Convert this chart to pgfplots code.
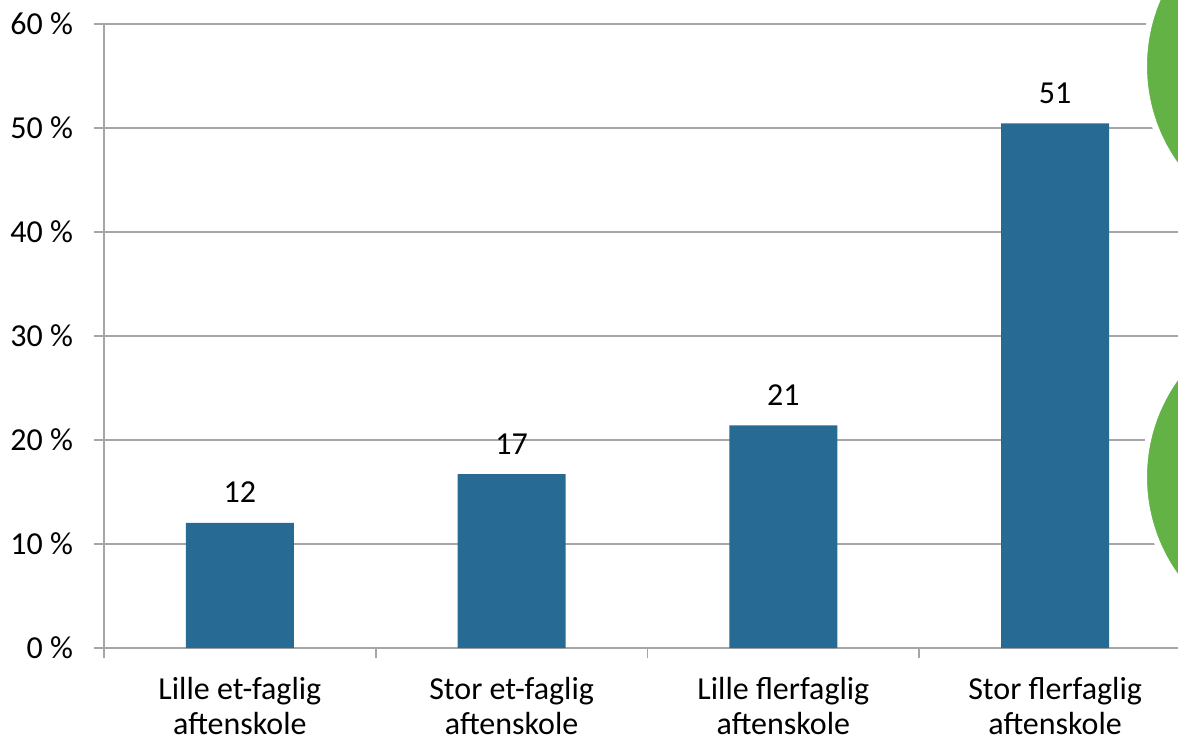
\documentclass[border=0pt]{standalone}
\usepackage{fontspec}
\setmainfont{Carlito}
\usepackage{pgfplots}
\pgfplotsset{compat=1.18}
\definecolor{barblue}{RGB}{39,106,147}
\definecolor{gridgray}{RGB}{166,166,166}
\definecolor{deco}{RGB}{98,178,70}
\begin{document}
\begin{tikzpicture}
\fontsize{16}{18}\selectfont
\begin{axis}[
  at={(0,0)}, anchor=south west,
  scale only axis,
  width=543.5pt, height=312pt,
  xmin=-0.5, xmax=3.5,
  ymin=0, ymax=60,
  ytick={0,10,...,60},
  xtick={0,1,2,3},
  xticklabels={{Lille et-faglig\\aftenskole},{Stor et-faglig\\aftenskole},{Lille flerfaglig\\aftenskole},{Stor flerfaglig\\aftenskole}},
  minor xtick={-0.5,0.5,1.5,2.5,3.5},
  major x tick style={draw=none},
  minor tick length=5pt,
  major tick length=5pt,
  tick align=outside,
  ytick pos=left, xtick pos=bottom,
  tick style={gridgray, line width=0.8pt},
  minor tick style={gridgray, line width=0.8pt},
  ymajorgrids,
  grid style={gridgray, line width=0.8pt},
  axis line style={gridgray, line width=0.8pt},
  /pgf/number format/assume math mode=true,
  yticklabel={\pgfmathprintnumber{\tick}~\%},
  yticklabel style={anchor=east, xshift=-5pt, font=\fontsize{16}{18}\selectfont},
  xticklabel style={align=center, anchor=north, yshift=-4pt, font=\fontsize{16}{17.5}\selectfont},
  ybar, bar width=54pt,
  point meta=explicit symbolic,
  nodes near coords,
  nodes near coords style={anchor=base, yshift=10pt, font=\fontsize{16}{18}\selectfont, black},
  clip=false,
]
\addplot[fill=barblue, draw=none] coordinates {(0,12.04) [12] (1,16.73) [17] (2,21.4) [21] (3,50.45) [51]};
\end{axis}
\fill[deco, draw=white, line width=3pt] (605pt,85.5pt) circle (85pt);
\fill[deco, draw=white, line width=3pt] (605pt,291pt) circle (85pt);
\pgfresetboundingbox
\path (-52pt,-46.5pt) rectangle (537pt,324pt);
\end{tikzpicture}
\end{document}
